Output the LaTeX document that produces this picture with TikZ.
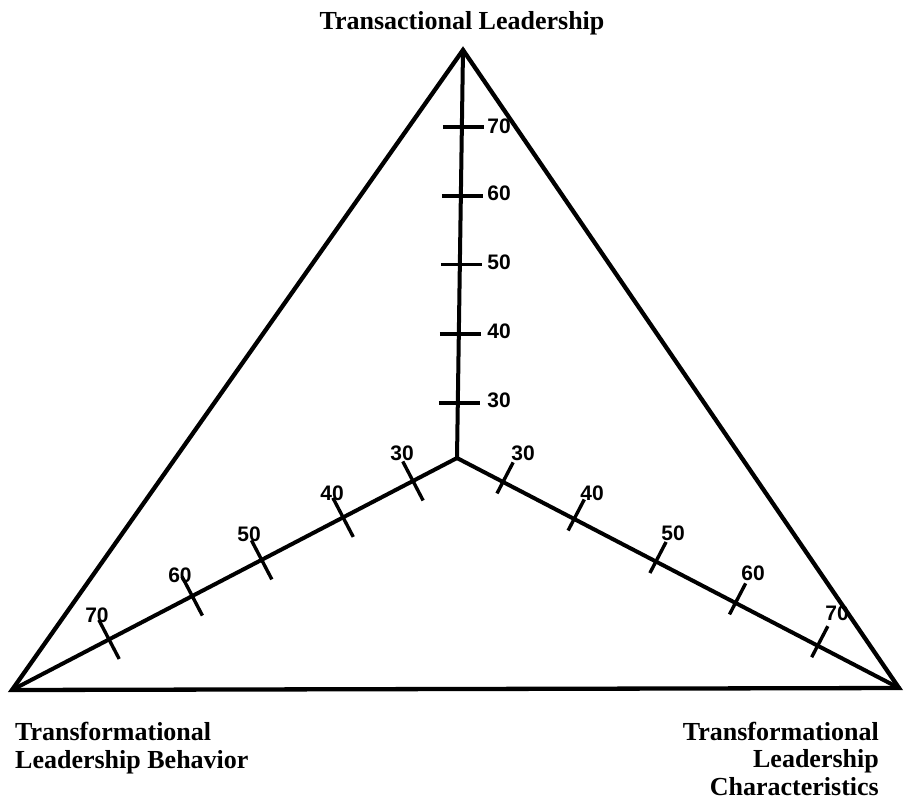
\documentclass[tikz,border=0pt]{standalone}
\usepackage{fontspec}
\setmainfont{Liberation Serif}
\newfontfamily\numfont{Liberation Sans}
\usetikzlibrary{calc}
\tikzset{
  frame/.style={line width=4.3pt, line join=miter},
  axis/.style={line width=4pt, line cap=round},
  tickmark/.style={line width=3.4pt},
  title/.style={font=\fontsize{26}{27.3}\selectfont\bfseries, inner sep=0pt},
  num/.style={font=\numfont\fontsize{21}{21}\selectfont\bfseries, inner sep=0pt}
}
\begin{document}
\begin{tikzpicture}[x=1pt,y=-1pt]
\path[use as bounding box, fill=white] (0,0) rectangle (904,804);
% vertices and centre
\coordinate (T) at (463,50);
\coordinate (L) at (12,690);
\coordinate (R) at (899,688);
\coordinate (C) at (457,458);
% triangle
\draw[frame] (T) -- (L) -- (R) -- cycle;
% axes
\draw[axis] (C) -- (T);
\draw[axis] (C) -- (L);
\draw[axis] (C) -- (R);
% vertical axis ticks
\foreach \t/\lab/\y in {0.135/30/400, 0.304/40/331, 0.474/50/262, 0.642/60/193, 0.811/70/126}{
  \coordinate (v\lab) at ($(C)!\t!(T)$);
  \draw[tickmark] ($(v\lab)+(-19,0)$) -- ($(v\lab)+(22,0)$);
  \node[num] (vl\lab) at (499,\y) {\lab};
}
% left axis ticks
\foreach \t/\lab/\lx/\ly in {0.099/30/402/453, 0.256/40/332/493, 0.439/50/249/534, 0.595/60/180/575, 0.782/70/97/615}{
  \coordinate (l\lab) at ($(C)!\t!(L)$);
  \draw[tickmark] ($(l\lab)!22pt!90:(L)$) -- ($(l\lab)!22pt!-90:(L)$);
  \node[num] (ll\lab) at (\lx,\ly) {\lab};
}
% right axis ticks
\foreach \t/\lab/\lx/\ly in {0.104/30/523/453, 0.265/40/592/493, 0.45/50/673/533, 0.63/60/753/573, 0.816/70/837/613}{
  \coordinate (r\lab) at ($(C)!\t!(R)$);
  \draw[tickmark] ($(r\lab)!22pt!90:(R)$) -- ($(r\lab)!13pt!-90:(R)$);
  \node[num] (rl\lab) at (\lx,\ly) {\lab};
}
% titles (base anchor = baseline of last line)
\node[title, anchor=base] (ttop) at (462,29) {Transactional Leadership};
\node[title, anchor=base west, align=left] (tleft) at (15,768) {Transformational\\Leadership Behavior};
\node[title, anchor=base east, align=right] (tright) at (879,795) {Transformational\\Leadership\\Characteristics};
\end{tikzpicture}
\end{document}
